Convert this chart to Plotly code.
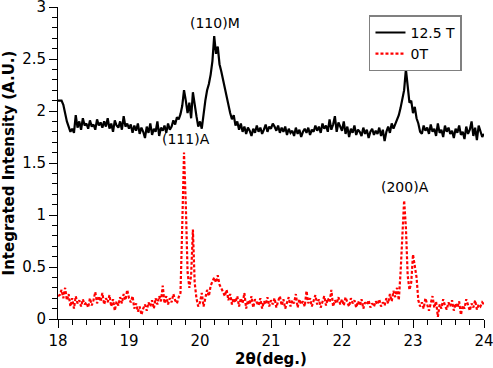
import numpy as np
import plotly.graph_objects as go

# sampling grid in 2theta (deg.)
two_theta = np.round(np.arange(0, 241) * 0.025 + 18.0, 3)

intensity_12p5T = [
    2.10, 2.10, 2.10, 2.06, 1.97, 1.90, 1.85, 1.80, 1.83, 1.79, 1.96, 1.84, 1.90, 1.82, 1.93, 1.86, 1.88, 1.83, 1.91, 1.85,
    1.87, 1.82, 1.92, 1.86, 1.89, 1.84, 1.90, 1.85, 1.93, 1.83, 1.88, 1.80, 1.91, 1.86, 1.84, 1.90, 1.82, 1.95, 1.85, 1.88,
    1.83, 1.87, 1.79, 1.86, 1.81, 1.88, 1.78, 1.84, 1.80, 1.74, 1.85, 1.79, 1.88, 1.77, 1.83, 1.80, 1.90, 1.76, 1.84, 1.81,
    1.86, 1.79, 1.88, 1.82, 1.85, 1.91, 1.87, 1.94, 1.92, 1.97, 2.05, 2.20, 2.10, 1.98, 2.08, 1.93, 2.18, 2.05, 1.95, 1.85,
    1.90, 1.83, 1.98, 2.10, 2.20, 2.26, 2.35, 2.48, 2.72, 2.55, 2.62, 2.45, 2.38, 2.30, 2.20, 2.14, 2.03, 1.98, 1.92, 1.96,
    1.86, 1.90, 1.82, 1.88, 1.80, 1.85, 1.78, 1.84, 1.81, 1.76, 1.83, 1.79, 1.86, 1.80, 1.84, 1.78, 1.82, 1.87, 1.80, 1.85,
    1.83, 1.88, 1.85, 1.81, 1.86, 1.79, 1.84, 1.80, 1.85, 1.77, 1.83, 1.79, 1.81, 1.76, 1.84, 1.78, 1.82, 1.75, 1.80, 1.83,
    1.79, 1.84, 1.77, 1.82, 1.80, 1.86, 1.81, 1.85, 1.79, 1.88, 1.83, 1.86, 1.80, 1.92, 1.82, 1.87, 1.95, 1.80, 1.89, 1.84,
    1.81, 1.90, 1.78, 1.85, 1.75, 1.83, 1.79, 1.86, 1.77, 1.82, 1.80, 1.76, 1.84, 1.78, 1.82, 1.74, 1.80, 1.83, 1.77, 1.81,
    1.78, 1.84, 1.76, 1.82, 1.71, 1.80, 1.85, 1.79, 1.88, 1.83, 1.87, 1.92, 1.96, 2.03, 2.10, 2.20, 2.40, 2.22, 2.08, 2.10,
    1.98, 2.04, 1.93, 1.88, 1.80, 1.78, 1.86, 1.81, 1.84, 1.78, 1.87, 1.80, 1.83, 1.76, 1.88, 1.79, 1.82, 1.75, 1.86, 1.80,
    1.84, 1.78, 1.81, 1.74, 1.83, 1.79, 1.86, 1.77, 1.80, 1.73, 1.85, 1.78, 1.82, 1.90, 1.76, 1.84, 1.72, 1.86, 1.79, 1.75,
    1.78,
]

intensity_0T = [
    0.22, 0.23, 0.28, 0.20, 0.30, 0.18, 0.24, 0.12, 0.20, 0.10, 0.22, 0.15, 0.18, 0.12, 0.19, 0.14, 0.16, 0.11, 0.20, 0.13,
    0.18, 0.26, 0.15, 0.22, 0.17, 0.25, 0.14, 0.20, 0.16, 0.23, 0.12, 0.19, 0.08, 0.17, 0.13, 0.21, 0.15, 0.24, 0.18, 0.28,
    0.20, 0.16, 0.22, 0.10, 0.15, 0.07, 0.12, 0.04, 0.10, 0.14, 0.08, 0.16, 0.12, 0.18, 0.10, 0.20, 0.14, 0.22, 0.17, 0.32,
    0.15, 0.22, 0.14, 0.20, 0.16, 0.24, 0.18, 0.15, 0.21, 0.25, 0.90, 1.60, 1.10, 0.45, 0.30, 0.42, 0.86, 0.35, 0.20, 0.12,
    0.16, 0.25, 0.12, 0.20, 0.28, 0.22, 0.32, 0.36, 0.40, 0.35, 0.42, 0.33, 0.30, 0.26, 0.22, 0.28, 0.18, 0.24, 0.14, 0.20,
    0.16, 0.22, 0.12, 0.20, 0.15, 0.25, 0.10, 0.18, 0.14, 0.22, 0.11, 0.19, 0.16, 0.13, 0.20, 0.10, 0.17, 0.14, 0.21, 0.12,
    0.18, 0.14, 0.20, 0.11, 0.17, 0.22, 0.13, 0.19, 0.10, 0.16, 0.21, 0.12, 0.18, 0.15, 0.24, 0.11, 0.19, 0.14, 0.17, 0.12,
    0.27, 0.15, 0.20, 0.12, 0.18, 0.23, 0.14, 0.19, 0.11, 0.17, 0.22, 0.13, 0.20, 0.16, 0.28, 0.12, 0.18, 0.15, 0.21, 0.14,
    0.19, 0.13, 0.21, 0.16, 0.12, 0.20, 0.15, 0.18, 0.11, 0.17, 0.13, 0.19, 0.10, 0.16, 0.14, 0.18, 0.11, 0.15, 0.12, 0.17,
    0.14, 0.19, 0.12, 0.16, 0.13, 0.20, 0.15, 0.24, 0.17, 0.27, 0.21, 0.30, 0.18, 0.45, 0.85, 1.14, 0.88, 0.42, 0.28, 0.35,
    0.62, 0.50, 0.40, 0.18, 0.12, 0.16, 0.10, 0.20, 0.13, 0.08, 0.15, 0.22, 0.11, 0.17, 0.02, 0.14, 0.10, 0.19, 0.13, 0.09,
    0.16, 0.12, 0.18, 0.08, 0.15, 0.11, 0.17, 0.04, 0.13, 0.10, 0.19, 0.12, 0.08, 0.15, 0.11, 0.18, 0.09, 0.14, 0.12, 0.16,
    0.14,
]

peak_labels = ["(110)M", "(111)A", "(200)A"]
peak_label_x = [20.21, 19.80, 22.89]
peak_label_y = [2.85, 1.73, 1.27]

FONT = "DejaVu Sans"

fig = go.Figure()
fig.add_trace(go.Scatter(x=two_theta, y=intensity_12p5T, mode="lines", name="12.5 T",
                         line=dict(color="black", width=2.2)))
fig.add_trace(go.Scatter(x=two_theta, y=intensity_0T, mode="lines", name="0T",
                         line=dict(color="red", width=2.2, dash="3px,2px")))

for t, ax, ay in zip(peak_labels, peak_label_x, peak_label_y):
    fig.add_annotation(x=ax, y=ay, text=t, showarrow=False,
                       font=dict(family=FONT, size=14, color="black"))

fig.update_layout(
    width=493, height=368,
    margin=dict(l=58, r=9, t=7, b=49),
    paper_bgcolor="white", plot_bgcolor="white",
    font=dict(family=FONT, size=14, color="black"),
    showlegend=True,
    legend=dict(x=0.73, y=0.973, xanchor="left", yanchor="top",
                bordercolor="#808080", borderwidth=1.5, bgcolor="white",
                font=dict(family=FONT, size=14, color="black"),
                tracegroupgap=0, itemwidth=30),
    xaxis=dict(range=[18, 24], showline=True, linecolor="black", linewidth=1,
               showgrid=False, zeroline=False, dtick=1, tick0=18,
               ticks="outside", ticklen=8, tickcolor="black",
               minor=dict(dtick=0.2, ticks="outside", ticklen=5, tickcolor="black"),
               automargin=False, ticklabeloverflow="allow",
               title=dict(text="<b>2θ(deg.)</b>", standoff=2,
                          font=dict(family=FONT, size=15, color="black")),
               tickfont=dict(family=FONT, size=15, color="black")),
    yaxis=dict(range=[0, 3], showline=True, linecolor="black", linewidth=1,
               showgrid=False, zeroline=False, dtick=0.5, tick0=0,
               ticks="outside", ticklen=8, tickcolor="black",
               minor=dict(dtick=0.1, ticks="outside", ticklen=5, tickcolor="black"),
               automargin=False, ticklabeloverflow="allow",
               title=dict(text="<b>Integrated Intensity (A.U.)</b>", standoff=4,
                          font=dict(family=FONT, size=15, color="black")),
               tickfont=dict(family=FONT, size=15, color="black")),
)

fig.write_html("out.html", config={"displayModeBar": False},
               post_script="document.body.style.margin='0px';")
